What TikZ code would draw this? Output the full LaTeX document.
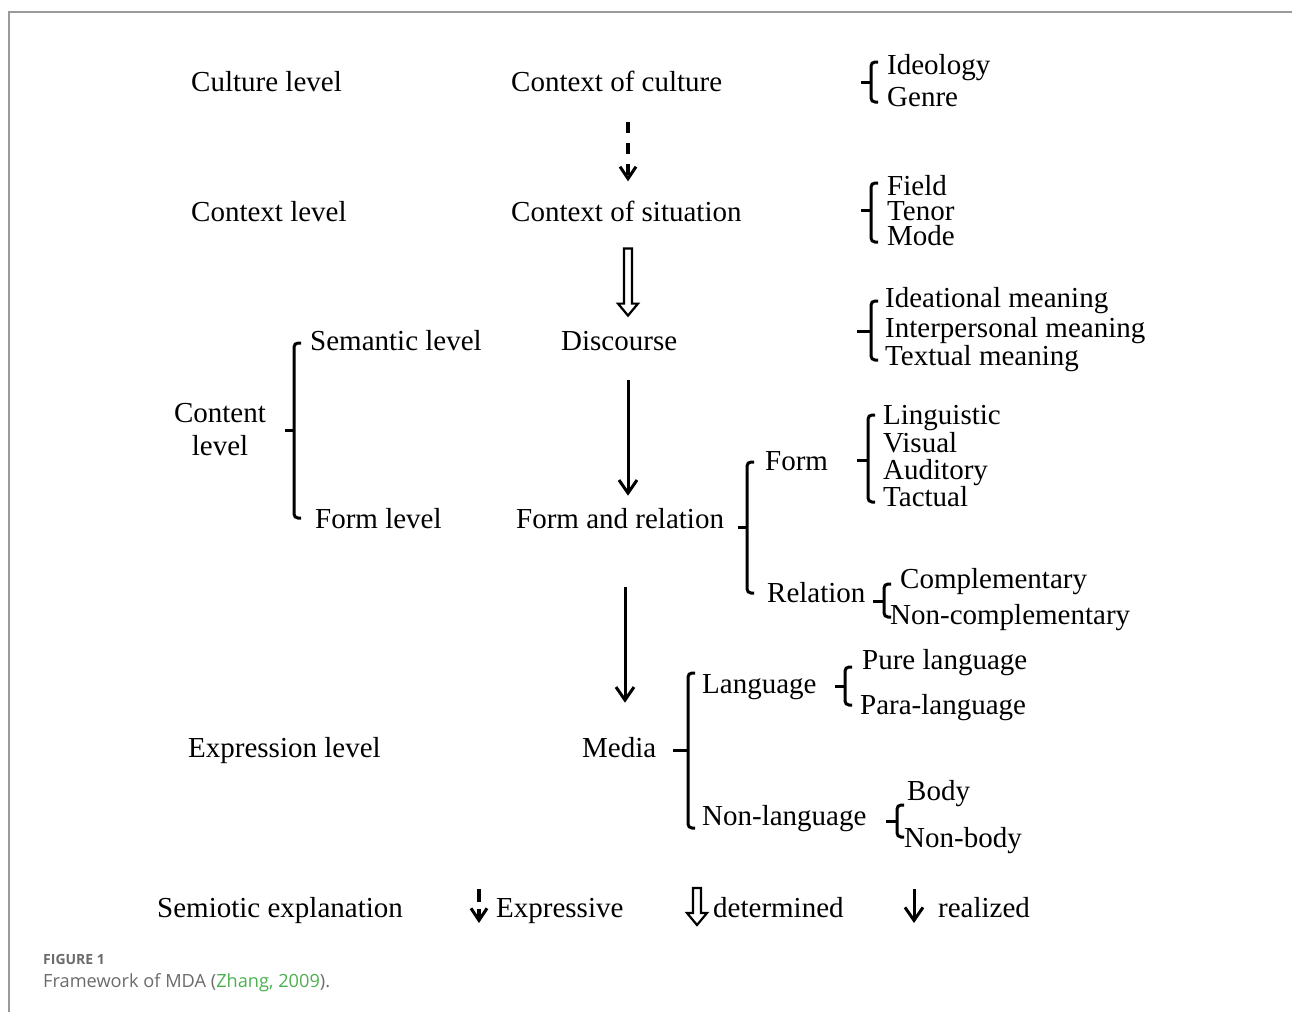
\documentclass[tikz,border=0pt]{standalone}
\usepackage{fontspec}
\setmainfont{Liberation Serif}
\newfontfamily\capfont{Open Sans}
\usetikzlibrary{arrows.meta,calc}
\definecolor{framegray}{HTML}{9A9A9A}
\definecolor{capgray}{HTML}{6B6B6B}
\definecolor{capgreen}{HTML}{4CB050}
\newcommand\brk[5]{% xv, ytop, ybot, ymid, xtick
  \draw[brkline,rounded corners=4pt] ({#1+7},#2) -- (#1,#2) -- (#1,#3) -- ({#1+7},#3);
  \draw[brkline] (#5,#4) -- (#1,#4);}
\newcommand\hollowarrow[2]{%
  \draw[line width=2.2pt,line join=miter] let \p1=(#1), \p2=(#2) in
    ({\x1-4pt},\y1) -- ({\x1+4pt},\y1) -- ({\x1+4pt},{\y2+12pt}) -- ({\x1+10pt},{\y2+12pt})
    -- (\x1,\y2) -- ({\x1-10pt},{\y2+12pt}) -- ({\x1-4pt},{\y2+12pt}) -- cycle;}
\tikzset{
  lbl/.style={inner sep=0pt, font=\fontsize{29}{34}\selectfont, anchor=base west},
  brkline/.style={line width=3pt},
  realarrow/.style={line width=3pt, -{Straight Barb[length=13pt,width=18pt,line width=3pt]}},
  exparrow/.style={line width=3.2pt, dash pattern=on 11pt off 10pt, -{Straight Barb[length=12pt,width=16pt,line width=3pt]}},
}
\begin{document}
\begin{tikzpicture}[x=1pt,y=-1pt]
\useasboundingbox (0,0) rectangle (1292,1012);
% frame
\draw[framegray,line width=2pt] (9,1012) -- (9,12) -- (1292,12);
% axis coordinates for arrows
\coordinate (ax) at (628,0);
\coordinate (bx) at (625,0);
% left column
\node[lbl] (cult) at (191,91) {Culture level};
\node[lbl] (ctxl) at (191,221) {Context level};
\node[lbl,anchor=base] (cont1) at (220,422) {Content};
\node[lbl,anchor=base] (cont2) at (220,455) {level};
\node[lbl] (expr) at (188,757) {Expression level};
\node[lbl] (semi) at (157,917) {Semiotic explanation};
\node[lbl] (seml) at (310,350) {Semantic level};
\node[lbl] (forml) at (315,528) {Form level};
\brk{294}{343}{518}{430}{285}
% middle column
\node[lbl] (cc) at (511,91) {Context of culture};
\node[lbl] (cs) at (511,221) {Context of situation};
\node[lbl] (disc) at (561,350) {Discourse};
\node[lbl] (far) at (516,528) {Form and relation};
\node[lbl] (media) at (582,757) {Media};
% arrows
\draw[exparrow, shorten <=31pt, shorten >=19pt] (cc.south -| ax) -- (cs.north -| ax);
\coordinate (hs) at ($(cs.south -| ax)+(0,27)$);
\coordinate (he) at ($(disc.north -| ax)+(0,-15)$);
\hollowarrow{hs}{he}
\draw[realarrow, shorten <=30pt, shorten >=12pt] (disc.south -| ax) -- (far.north -| ax);
\draw[realarrow, shorten <=59pt, shorten >=34pt] (far.south -| bx) -- (media.north -| bx);
% culture
\node[lbl] (ideo) at (887,74) {Ideology};
\node[lbl] (genre) at (887,106) {Genre};
\brk{871}{62}{102}{82}{861}
% situation
\node[lbl] (field) at (887,195) {Field};
\node[lbl] (tenor) at (887,220) {Tenor};
\node[lbl] (mode) at (887,245) {Mode};
\brk{871}{183}{242}{210}{861}
% discourse
\node[lbl] (ideat) at (885,307) {Ideational meaning};
\node[lbl] (inter) at (885,337) {Interpersonal meaning};
\node[lbl] (textu) at (885,365) {Textual meaning};
\brk{871}{301}{360}{331}{857}
% form and relation
\node[lbl] (form) at (765,470) {Form};
\node[lbl] (rel) at (767,602) {Relation};
\brk{747}{462}{593}{527}{738}
\node[lbl] (ling) at (883,424) {Linguistic};
\node[lbl] (vis) at (883,452) {Visual};
\node[lbl] (aud) at (883,479) {Auditory};
\node[lbl] (tact) at (883,506) {Tactual};
\brk{868}{415}{502}{460}{857}
\node[lbl] (comp) at (900,588) {Complementary};
\node[lbl] (ncomp) at (890,624) {Non-complementary};
\brk{884}{584}{617}{601}{873}
% media
\node[lbl] (lang) at (702,693) {Language};
\node[lbl] (nlang) at (702,825) {Non-language};
\brk{688}{673}{828}{750}{673}
\node[lbl] (pure) at (862,669) {Pure language};
\node[lbl] (para) at (860,714) {Para-language};
\brk{845}{667}{705}{686}{835}
\node[lbl] (body) at (907,800) {Body};
\node[lbl] (nbody) at (904,847) {Non-body};
\brk{897}{805}{837}{821}{886}
% legend
\node[lbl] (lexp) at (496,917) {Expressive};
\node[lbl] (ldet) at (713,917) {determined};
\node[lbl] (lrea) at (938,917) {realized};
\coordinate (le1) at (479,889);
\coordinate (le2) at (479,923);
\draw[exparrow, dash pattern=on 13pt off 7pt] (le1) -- (le2);
\coordinate (ld1) at (697,888);
\coordinate (ld2) at (697,925);
\hollowarrow{ld1}{ld2}
\coordinate (lr1) at (914,889);
\coordinate (lr2) at (914,923);
\draw[realarrow] (lr1) -- (lr2);
% caption
\node[inner sep=0pt, anchor=base west, font=\capfont\bfseries\fontsize{14}{16}\selectfont, text=capgray] (figl) at (43,964) {FIGURE 1};
\node[inner sep=0pt, anchor=base west, font=\capfont\fontsize{18.2}{21}\selectfont, text=capgray] (figc) at (43,987) {Framework of MDA (\textcolor{capgreen}{Zhang, 2009}).};
\end{tikzpicture}
\end{document}
